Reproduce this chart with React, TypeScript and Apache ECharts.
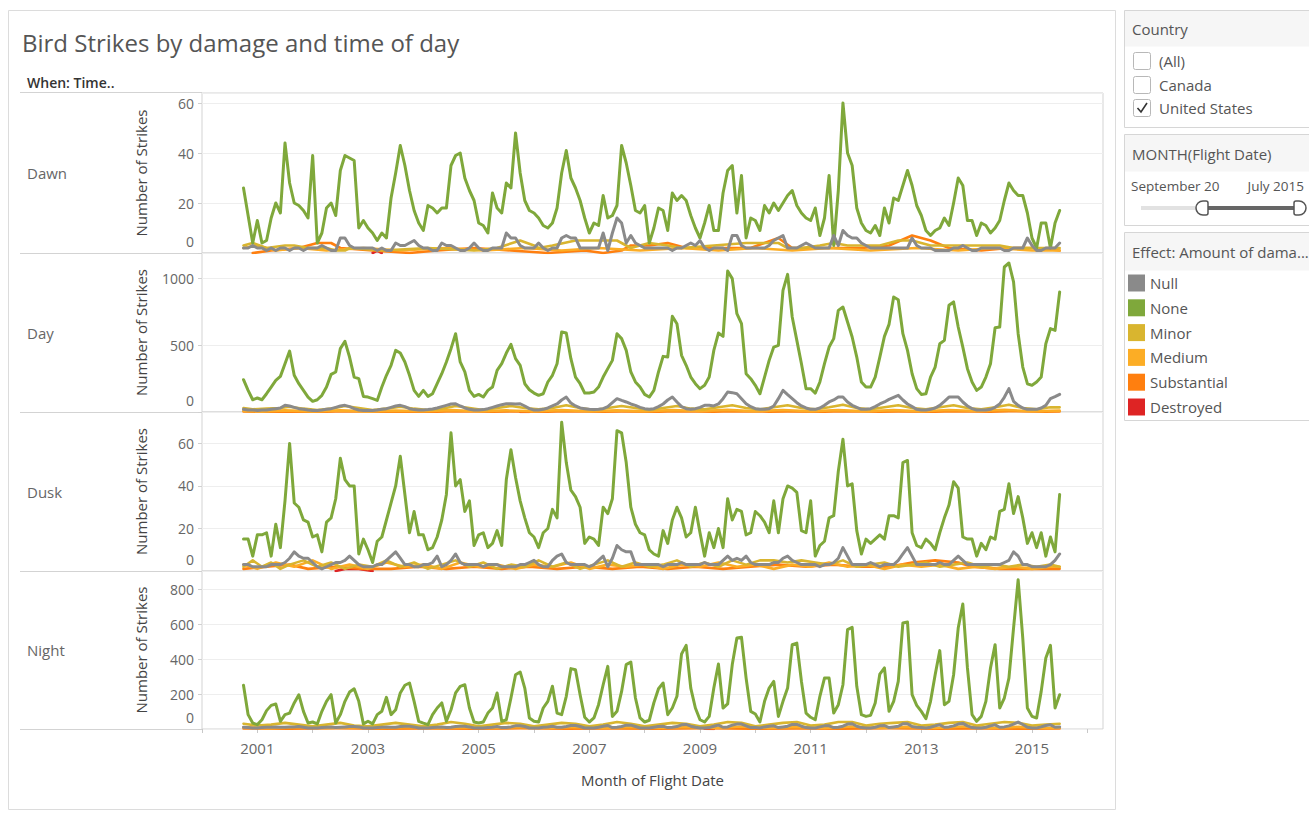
import React, { useEffect, useRef } from "react";
import * as echarts from "echarts";

// Months are counted from Oct 2000 (index 0) to Jul 2015 (index 177)
const FIRST_MONTH = 9; // Oct 2000 expressed as months since Jan 2000
const YEAR_LABELS = ["2001", "2003", "2005", "2007", "2009", "2011", "2013", "2015"];
const PANELS = ["Dawn", "Day", "Dusk", "Night"];
const LEGEND_ORDER = ["Null", "None", "Minor", "Medium", "Substantial", "Destroyed"];
const DRAW_ORDER = ["Destroyed", "Substantial", "Medium", "Minor", "None", "Null"];

// ---------- Dawn ----------
const dawnNone = [
  26, 15, 4, 13, 4, 5, 14, 20, 16, 44,
  28, 20, 19, 17, 14, 39, 4, 8, 18, 20,
  15, 33, 39, 38, 37, 10, 13, 10, 8, 5,
  8, 6, 22, 32, 43, 35, 25, 17, 12, 9,
  19, 18, 16, 18, 18, 35, 39, 40, 30, 25,
  21, 12, 11, 8, 24, 18, 16, 28, 26, 48,
  32, 21, 17, 16, 14, 11, 10, 12, 18, 32,
  41, 30, 26, 21, 14, 8, 12, 11, 23, 14,
  15, 19, 43, 36, 27, 17, 16, 19, 4, 10,
  18, 17, 9, 24, 21, 23, 21, 15, 10, 6,
  12, 19, 9, 9, 24, 33, 35, 16, 31, 6,
  14, 13, 9, 19, 16, 20, 17, 20, 23, 25,
  19, 16, 14, 13, 18, 7, 14, 31, 3, 25,
  60, 40, 35, 18, 12, 9, 8, 11, 7, 18,
  12, 22, 21, 27, 33, 27, 19, 15, 9, 7,
  9, 10, 14, 11, 20, 30, 27, 13, 13, 7,
  12, 11, 8, 10, 13, 21, 28, 25, 23, 23,
  16, 6, 2, 12, 12, 2, 12, 17,
];
const dawnNull = [
  2, 2, 3, 2, 2, 1, 2, 1, 2, 2,
  1, 2, 2, 1, 2, 2, 2, 3, 2, 1,
  1, 6, 6, 3, 2, 2, 2, 2, 2, 1,
  2, 1, 1, 4, 3, 3, 4, 5, 3, 2,
  2, 1, 1, 4, 3, 3, 2, 1, 1, 2,
  4, 2, 1, 1, 2, 2, 2, 8, 6, 6,
  3, 2, 2, 2, 4, 2, 1, 2, 2, 6,
  7, 6, 6, 2, 2, 2, 2, 2, 8, 1,
  8, 14, 12, 4, 7, 4, 3, 2, 2, 2,
  2, 2, 2, 1, 2, 2, 3, 4, 3, 5,
  2, 1, 2, 2, 2, 1, 7, 7, 3, 2,
  2, 2, 2, 2, 3, 5, 6, 7, 2, 2,
  2, 3, 4, 3, 2, 2, 2, 2, 7, 3,
  9, 7, 6, 6, 4, 3, 2, 2, 2, 2,
  2, 2, 2, 2, 2, 6, 3, 2, 2, 2,
  1, 1, 1, 1, 2, 2, 3, 2, 1, 1,
  2, 2, 2, 2, 2, 1, 1, 2, 2, 2,
  6, 3, 1, 1, 2, 2, 2, 4,
];
const dawnMinor = [
  [0, 3], [2, 4], [5, 2], [9, 3], [11, 3], [14, 2], [18, 2], [20, 1], [22, 1], [23, 2],
  [30, 1], [40, 2], [50, 1], [55, 2], [60, 5], [63, 3], [64, 2], [67, 3], [72, 5], [81, 5],
  [82, 4], [84, 2], [88, 4], [92, 3], [95, 2], [109, 4], [116, 4], [118, 2], [121, 2], [125, 3],
  [128, 4], [131, 3], [138, 3], [142, 5], [145, 5], [149, 3], [152, 3], [164, 3], [167, 2], [177, 2],
];
const dawnMedium = [
  [0, 2], [3, 3], [7, 1], [12, 2], [18, 1], [26, 2], [34, 1], [44, 2], [52, 1], [61, 2],
  [69, 1], [77, 2], [86, 1], [95, 2], [103, 1], [111, 2], [119, 1], [127, 2], [136, 1], [146, 2],
  [155, 1], [163, 2], [171, 1], [177, 1],
];
const dawnSubstantial = [
  [2, 0], [6, 1], [12, 2], [16, 4], [19, 4], [21, 2], [28, 1], [36, 0], [42, 1], [50, 2],
  [58, 1], [66, 0], [74, 1], [78, 0], [82, 1], [84, 3], [88, 3], [92, 4], [96, 2], [104, 2],
  [110, 2], [116, 6], [119, 2], [126, 2], [134, 2], [140, 3], [145, 7], [149, 5], [153, 2], [160, 1],
  [166, 2], [172, 2], [177, 1],
];
const dawnDestroyed = [[28, 0], [29, 1], [30, 0]];

// ---------- Day ----------
const dayNone = [
  242, 162, 92, 105, 92, 137, 187, 237, 267, 362,
  457, 275, 212, 162, 112, 80, 92, 125, 187, 282,
  300, 475, 530, 412, 262, 250, 117, 112, 100, 87,
  187, 275, 350, 462, 442, 375, 275, 162, 117, 162,
  117, 137, 212, 287, 375, 475, 587, 375, 300, 162,
  117, 132, 112, 162, 187, 312, 362, 442, 507, 400,
  350, 212, 167, 142, 125, 137, 225, 275, 362, 600,
  592, 400, 262, 212, 142, 142, 150, 187, 262, 325,
  387, 587, 550, 462, 300, 225, 187, 132, 112, 162,
  300, 417, 412, 717, 662, 425, 350, 262, 212, 175,
  200, 262, 462, 592, 567, 1057, 1000, 737, 662, 287,
  250, 200, 137, 262, 387, 487, 500, 912, 1032, 712,
  537, 362, 175, 175, 142, 225, 362, 487, 550, 762,
  787, 675, 562, 412, 225, 187, 187, 262, 412, 567,
  657, 862, 842, 587, 462, 287, 175, 132, 137, 262,
  337, 512, 537, 800, 825, 637, 487, 325, 225, 162,
  187, 262, 362, 632, 637, 1087, 1117, 975, 587, 337,
  212, 200, 225, 262, 512, 625, 612, 900,
];
const dayNull = [
  20, 15, 15, 12, 15, 15, 20, 25, 30, 50,
  45, 35, 25, 20, 15, 12, 12, 15, 20, 25,
  35, 45, 50, 40, 25, 15, 12, 12, 12, 15,
  20, 25, 35, 45, 50, 40, 25, 18, 15, 15,
  18, 22, 30, 40, 50, 60, 62, 45, 30, 20,
  15, 15, 18, 25, 35, 45, 55, 62, 62, 60,
  62, 45, 25, 15, 15, 20, 30, 45, 60, 90,
  112, 67, 45, 30, 25, 20, 18, 20, 25, 40,
  70, 100, 87, 75, 60, 50, 35, 25, 20, 25,
  40, 60, 90, 112, 75, 40, 25, 20, 25, 35,
  50, 50, 45, 60, 100, 150, 145, 137, 100, 62,
  40, 25, 20, 20, 25, 45, 100, 162, 130, 100,
  70, 45, 30, 20, 20, 30, 50, 75, 90, 112,
  112, 75, 50, 35, 20, 20, 25, 40, 60, 75,
  95, 110, 125, 90, 60, 40, 20, 15, 15, 20,
  30, 50, 80, 112, 112, 112, 75, 45, 25, 15,
  15, 15, 20, 35, 60, 110, 175, 80, 50, 30,
  20, 20, 20, 30, 50, 100, 115, 132,
];
const dayMinor = [
  [0, 30], [2, 20], [5, 25], [8, 30], [10, 40], [13, 25], [16, 15], [19, 25], [22, 45], [25, 30],
  [28, 15], [31, 25], [34, 40], [37, 25], [40, 15], [43, 25], [46, 45], [49, 30], [52, 15], [55, 30],
  [58, 45], [61, 30], [64, 20], [67, 30], [70, 50], [73, 30], [76, 15], [79, 30], [82, 45], [85, 30],
  [88, 15], [91, 30], [94, 45], [97, 25], [100, 20], [103, 35], [106, 50], [109, 30], [112, 20], [115, 35],
  [118, 50], [121, 30], [124, 20], [127, 35], [130, 55], [133, 30], [136, 20], [139, 35], [142, 50], [145, 30],
  [148, 20], [151, 35], [154, 50], [157, 30], [160, 20], [163, 35], [166, 55], [169, 30], [172, 20], [175, 35],
  [177, 35],
];
const dayMedium = [
  [0, 8], [4, 5], [9, 12], [15, 5], [21, 12], [27, 5], [33, 10], [39, 6], [45, 14], [51, 6],
  [57, 12], [63, 6], [69, 14], [75, 6], [81, 12], [87, 6], [93, 14], [99, 7], [105, 16], [111, 6],
  [117, 15], [123, 6], [129, 14], [135, 6], [141, 14], [147, 6], [153, 15], [159, 7], [165, 16], [171, 6],
  [177, 10],
];
const daySubstantial = [
  [0, 4], [6, 2], [10, 5], [18, 3], [22, 6], [30, 2], [34, 5], [42, 3], [46, 6], [54, 3],
  [58, 5], [66, 3], [70, 6], [78, 3], [82, 5], [90, 3], [94, 6], [102, 3], [106, 6], [114, 3],
  [118, 5], [126, 3], [130, 6], [138, 3], [142, 5], [150, 3], [154, 6], [162, 3], [166, 6], [174, 3],
  [177, 4],
];
const dayDestroyed = [[60, 1], [62, 1]];

// ---------- Dusk ----------
const duskNone = [
  15, 15, 7, 17, 17, 18, 7, 22, 11, 33,
  60, 32, 30, 24, 23, 16, 17, 9, 23, 25,
  34, 53, 43, 40, 40, 8, 15, 10, 4, 14,
  16, 24, 32, 40, 54, 36, 18, 28, 17, 17,
  10, 11, 16, 24, 36, 65, 40, 43, 28, 33,
  12, 17, 18, 11, 13, 19, 12, 43, 57, 44,
  33, 25, 18, 16, 11, 18, 20, 29, 25, 70,
  51, 38, 35, 30, 13, 16, 15, 12, 30, 27,
  34, 66, 65, 51, 30, 22, 18, 17, 10, 8,
  7, 19, 13, 24, 30, 25, 16, 18, 30, 18,
  7, 18, 11, 20, 11, 34, 24, 29, 28, 17,
  18, 28, 26, 23, 18, 33, 18, 34, 40, 39,
  37, 19, 18, 33, 7, 12, 14, 25, 26, 47,
  62, 40, 41, 19, 8, 15, 13, 15, 17, 15,
  26, 26, 25, 51, 52, 18, 12, 11, 15, 13,
  10, 18, 25, 31, 42, 39, 16, 15, 15, 7,
  13, 10, 16, 15, 28, 29, 41, 27, 35, 25,
  13, 18, 11, 18, 7, 16, 9, 36,
];
const duskNull = [
  3, 3, 2, 2, 2, 2, 3, 3, 3, 4,
  6, 9, 7, 6, 6, 4, 2, 1, 2, 3,
  4, 4, 5, 7, 5, 3, 2, 2, 2, 3,
  3, 5, 7, 9, 6, 3, 3, 2, 2, 3,
  3, 4, 7, 2, 3, 5, 8, 4, 3, 3,
  3, 3, 2, 3, 3, 3, 2, 2, 2, 2,
  3, 3, 4, 5, 3, 2, 2, 5, 7, 8,
  4, 3, 3, 3, 3, 2, 3, 5, 7, 2,
  6, 12, 10, 9, 9, 3, 3, 3, 3, 3,
  3, 2, 3, 3, 3, 4, 3, 3, 3, 3,
  4, 3, 3, 3, 5, 7, 5, 6, 5, 7,
  4, 3, 3, 3, 3, 4, 4, 6, 7, 5,
  4, 3, 3, 3, 3, 2, 3, 3, 4, 6,
  11, 7, 3, 3, 3, 3, 4, 3, 2, 3,
  3, 3, 5, 8, 11, 7, 3, 3, 3, 3,
  3, 4, 3, 3, 5, 7, 5, 3, 3, 3,
  3, 3, 3, 3, 3, 4, 5, 9, 7, 3,
  3, 2, 2, 2, 2, 3, 5, 8,
];
const duskMinor = [
  [0, 2], [2, 5], [4, 2], [6, 4], [8, 1], [10, 3], [13, 5], [16, 2], [19, 4], [22, 1],
  [25, 3], [28, 2], [31, 5], [34, 2], [37, 4], [40, 1], [43, 3], [46, 5], [49, 2], [52, 4],
  [55, 1], [58, 3], [61, 2], [64, 5], [67, 2], [70, 4], [73, 1], [76, 3], [79, 5], [82, 2],
  [85, 4], [88, 2], [91, 3], [94, 5], [97, 2], [100, 4], [103, 2], [106, 5], [109, 3], [112, 5],
  [115, 5], [118, 4], [121, 5], [124, 4], [127, 3], [130, 5], [133, 2], [136, 3], [139, 4], [142, 2],
  [145, 3], [148, 4], [151, 2], [154, 3], [157, 4], [160, 2], [163, 3], [166, 2], [169, 3], [172, 2],
  [175, 3], [177, 2],
];
const duskMedium = [
  [0, 3], [3, 1], [7, 4], [11, 2], [15, 5], [19, 1], [23, 3], [27, 1], [31, 4], [35, 2],
  [39, 3], [43, 1], [47, 4], [51, 2], [55, 3], [59, 1], [63, 3], [67, 2], [71, 4], [75, 1],
  [79, 3], [83, 2], [87, 3], [91, 1], [95, 3], [99, 2], [103, 4], [107, 2], [111, 3], [115, 1],
  [119, 3], [123, 2], [127, 4], [131, 2], [135, 3], [139, 1], [143, 3], [147, 2], [151, 3], [155, 1],
  [159, 2], [163, 1], [167, 2], [171, 1], [175, 2], [177, 2],
];
const duskSubstantial = [
  [0, 1], [5, 2], [10, 3], [14, 1], [20, 2], [26, 1], [32, 1], [38, 2], [44, 1], [50, 2],
  [56, 1], [62, 2], [68, 1], [74, 2], [80, 1], [86, 2], [92, 1], [98, 2], [104, 1], [110, 2],
  [116, 3], [122, 2], [128, 3], [134, 2], [140, 2], [145, 4], [150, 5], [155, 4], [158, 2], [164, 1],
  [170, 1], [177, 1],
];
const duskDestroyed = [[20, 0], [22, 1], [25, 1], [28, 0]];

// ---------- Night ----------
const nightNone = [
  250, 82, 34, 25, 53, 105, 135, 143, 44, 82,
  91, 149, 196, 101, 34, 40, 29, 101, 158, 196,
  34, 82, 158, 211, 230, 158, 29, 44, 29, 82,
  101, 181, 82, 110, 206, 250, 263, 158, 44, 34,
  25, 82, 120, 149, 44, 110, 206, 244, 253, 120,
  40, 34, 40, 91, 120, 206, 44, 53, 177, 310,
  326, 234, 63, 44, 40, 120, 158, 244, 91, 82,
  187, 345, 339, 196, 67, 40, 63, 139, 253, 358,
  72, 101, 215, 368, 383, 177, 63, 40, 50, 150,
  230, 263, 82, 120, 187, 429, 478, 234, 120, 53,
  40, 72, 234, 371, 120, 143, 368, 520, 524, 291,
  101, 86, 40, 158, 234, 272, 72, 158, 234, 482,
  491, 272, 91, 67, 53, 187, 291, 291, 91, 139,
  253, 568, 581, 244, 82, 72, 78, 149, 314, 349,
  101, 158, 272, 606, 611, 196, 135, 101, 59, 158,
  310, 448, 139, 158, 310, 577, 714, 349, 82, 44,
  72, 158, 349, 482, 120, 177, 291, 577, 853, 520,
  120, 72, 63, 215, 406, 478, 120, 196,
];
const nightNull = [
  10, 8, 6, 6, 8, 10, 10, 12, 10, 10,
  12, 12, 14, 10, 6, 6, 6, 8, 10, 12,
  8, 10, 12, 14, 14, 12, 6, 6, 6, 8,
  10, 12, 10, 10, 14, 16, 16, 12, 6, 6,
  6, 8, 10, 12, 8, 10, 14, 16, 16, 12,
  6, 6, 6, 8, 10, 14, 8, 8, 12, 18,
  18, 14, 6, 6, 6, 10, 12, 16, 10, 10,
  14, 20, 20, 14, 6, 6, 6, 10, 16, 20,
  8, 10, 14, 22, 22, 14, 6, 6, 6, 10,
  14, 16, 8, 10, 14, 24, 26, 16, 10, 6,
  6, 8, 16, 22, 10, 12, 22, 28, 28, 18,
  8, 8, 6, 12, 16, 18, 8, 12, 16, 26,
  26, 16, 8, 6, 6, 12, 18, 18, 8, 10,
  16, 28, 30, 16, 8, 6, 6, 10, 18, 20,
  8, 12, 16, 30, 30, 14, 10, 8, 6, 10,
  18, 24, 10, 12, 18, 28, 32, 18, 8, 6,
  6, 10, 18, 24, 10, 12, 18, 28, 40, 26,
  10, 6, 6, 12, 20, 24, 10, 12,
];
const nightMinor = [
  [0, 30], [3, 20], [6, 25], [9, 35], [12, 25], [15, 15], [18, 25], [21, 35], [24, 20], [27, 15],
  [30, 25], [33, 35], [36, 25], [39, 15], [42, 25], [45, 40], [48, 30], [51, 15], [54, 25], [57, 35],
  [60, 30], [63, 15], [66, 25], [69, 35], [72, 30], [75, 15], [78, 25], [81, 40], [84, 30], [87, 15],
  [90, 25], [93, 35], [96, 30], [99, 15], [102, 25], [105, 40], [108, 35], [111, 15], [114, 25], [117, 35],
  [120, 40], [123, 20], [126, 25], [129, 40], [132, 40], [135, 20], [138, 30], [141, 35], [144, 40], [147, 20],
  [150, 25], [153, 35], [156, 40], [159, 20], [162, 30], [165, 40], [168, 35], [171, 20], [174, 25], [177, 30],
];
const nightMedium = [
  [0, 10], [6, 5], [12, 12], [18, 6], [24, 10], [30, 6], [36, 12], [42, 6], [48, 10], [54, 6],
  [60, 12], [66, 6], [72, 12], [78, 6], [84, 12], [90, 6], [96, 12], [102, 6], [108, 14], [114, 6],
  [120, 12], [126, 6], [132, 14], [138, 6], [144, 12], [150, 6], [156, 14], [162, 6], [168, 12], [174, 6],
  [177, 8],
];
const nightSubstantial = [
  [0, 3], [10, 2], [20, 4], [30, 2], [40, 3], [50, 2], [60, 4], [70, 2], [80, 3], [90, 2],
  [100, 4], [110, 2], [120, 3], [130, 2], [140, 4], [150, 2], [160, 3], [170, 2], [177, 3],
];
const nightDestroyed = [[100, 1], [102, 0]];

const PANEL_DATA: any[] = [
  { None: dawnNone, Null: dawnNull, Minor: dawnMinor, Medium: dawnMedium, Substantial: dawnSubstantial, Destroyed: dawnDestroyed },
  { None: dayNone, Null: dayNull, Minor: dayMinor, Medium: dayMedium, Substantial: daySubstantial, Destroyed: dayDestroyed },
  { None: duskNone, Null: duskNull, Minor: duskMinor, Medium: duskMedium, Substantial: duskSubstantial, Destroyed: duskDestroyed },
  { None: nightNone, Null: nightNull, Minor: nightMinor, Medium: nightMedium, Substantial: nightSubstantial, Destroyed: nightDestroyed },
];
const Y_MAX = [64, 1192, 74.8, 903];
const Y_INTERVAL = [20, 500, 20, 200];

const COLORS: Record<string, string> = {
  Null: "#8a8a8a",
  None: "#7fa83b",
  Minor: "#d9b52f",
  Medium: "#fcad25",
  Substantial: "#ff7f0f",
  Destroyed: "#de2424",
};

const FONT = '"Open Sans", "Noto Sans", sans-serif';
const GRID_TOP = [93, 253, 412, 571];
const GRID_H = [160, 159, 159, 158];
const GRID_LEFT = 202;
const GRID_W = 901;
const X_MAX = 195.4;

function toPoints(arr: any[]) {
  if (arr.length && Array.isArray(arr[0])) return arr.map((p: number[]) => [p[0] + FIRST_MONTH, p[1]]);
  return arr.map((v: number, i: number) => [i + FIRST_MONTH, v]);
}

export default function App() {
  const ref = useRef<HTMLDivElement>(null);
  useEffect(() => {
    if (!ref.current) return;
    const chart = echarts.init(ref.current, undefined, { renderer: "svg" });

    const grids = PANELS.map((_, i) => ({
      left: GRID_LEFT,
      top: GRID_TOP[i],
      width: GRID_W,
      height: GRID_H[i],
      show: true,
      borderColor: "#d3d3d3",
      borderWidth: 1,
      backgroundColor: "transparent",
    }));

    const xAxes = PANELS.map((_, i) => {
      const last = i === PANELS.length - 1;
      return {
        type: "value",
        gridIndex: i,
        min: 0,
        max: X_MAX,
        interval: 12,
        show: last,
        axisLine: { show: false },
        splitLine: { show: false },
        axisTick: { show: last, length: 4, lineStyle: { color: "#c8c8c8" } },
        axisLabel: {
          show: last,
          showMaxLabel: false,
          margin: 11,
          fontSize: 15,
          color: "#666",
          fontFamily: FONT,
          formatter: (v: number) => {
            const y = String(2000 + v / 12);
            return YEAR_LABELS.includes(y) ? y : "";
          },
        },
        name: last ? "Month of Flight Date" : "",
        nameLocation: "middle",
        nameGap: 43,
        nameTextStyle: { fontSize: 15, color: "#444", fontFamily: FONT, fontWeight: 500 },
      };
    });

    const yAxes = PANELS.map((_, i) => ({
      type: "value",
      gridIndex: i,
      min: 0,
      max: Y_MAX[i],
      interval: Y_INTERVAL[i],
      axisLine: { show: false },
      axisTick: { show: true, length: 4, lineStyle: { color: "#d0d0d0" } },
      splitLine: { show: true, lineStyle: { color: "#eeeeee", width: 1 } },
      axisLabel: {
        showMaxLabel: false,
        margin: 8,
        fontSize: 14,
        color: "#666",
        fontFamily: FONT,
        formatter: (v: number) => (v === 0 ? "{z|0}" : String(v)),
        rich: { z: { fontSize: 14, color: "#666", fontFamily: FONT, padding: [0, 0, 24, 0] } },
      },
      name: "Number of Strikes",
      nameLocation: "middle",
      nameGap: 54,
      nameTextStyle: { fontSize: 15, color: "#444", fontFamily: FONT, fontWeight: 500 },
    }));

    const series: any[] = [];
    PANELS.forEach((_, i) => {
      DRAW_ORDER.forEach((name) => {
        series.push({
          type: "line",
          name,
          xAxisIndex: i,
          yAxisIndex: i,
          data: toPoints(PANEL_DATA[i][name]),
          showSymbol: false,
          symbol: "none",
          color: COLORS[name],
          itemStyle: { color: COLORS[name] },
          lineStyle: { color: COLORS[name], width: name === "None" || name === "Null" ? 3 : 2.6, join: "round", cap: "round" },
          emphasis: { disabled: true },
          z: name === "Null" ? 4 : name === "None" ? 3 : 2,
        });
      });
    });

    const lineAt = (y: number, x1: number, x2: number) => ({
      type: "line",
      silent: true,
      shape: { x1, y1: y, x2, y2: y },
      style: { stroke: "#d3d3d3", lineWidth: 1 },
    });

    const card = (y: number, h: number, headerH: number, title: string) => [
      {
        type: "rect",
        silent: true,
        shape: { x: 1124.5, y: y + 0.5, width: 200, height: headerH },
        style: { fill: "#f6f6f6" },
      },
      {
        type: "rect",
        silent: true,
        shape: { x: 1124.5, y: y + 0.5, width: 200, height: h },
        style: { fill: "none", stroke: "#d6d6d6", lineWidth: 1 },
      },
      {
        type: "text",
        silent: true,
        style: { text: title, x: 1132, y: y + headerH / 2 + 1, fill: "#555", fontSize: 15, fontFamily: FONT, verticalAlign: "middle" },
      },
    ];

    const checkbox = (cy: number, label: string, checked: boolean) => {
      const els: any[] = [
        {
          type: "rect",
          silent: true,
          shape: { x: 1133.5, y: cy - 8.5, width: 17, height: 17, r: 2 },
          style: { fill: "#fff", stroke: "#b8b8b8", lineWidth: 1 },
        },
        {
          type: "text",
          silent: true,
          style: { text: label, x: 1159, y: cy, fill: "#555", fontSize: 15, fontFamily: FONT, verticalAlign: "middle" },
        },
      ];
      if (checked)
        els.push({
          type: "polyline",
          silent: true,
          shape: { points: [[1137.5, cy], [1141, cy + 4], [1147, cy - 5]] },
          style: { stroke: "#333", lineWidth: 1.6, fill: "none" },
        });
      return els;
    };

    const graphic: any[] = [
      {
        type: "rect",
        silent: true,
        shape: { x: 8.5, y: 10.5, width: 1107, height: 799 },
        style: { fill: "none", stroke: "#dcdcdc", lineWidth: 1 },
      },
      {
        type: "text",
        silent: true,
        style: { text: "Bird Strikes by damage and time of day", x: 22, y: 42, fill: "#555", fontSize: 24, fontFamily: FONT, verticalAlign: "middle" },
      },
      {
        type: "text",
        silent: true,
        style: { text: "When: Time..", x: 27, y: 82, fill: "#333", fontSize: 14, fontWeight: 600, fontFamily: FONT, verticalAlign: "middle" },
      },
      lineAt(92.5, 20, GRID_LEFT),
      lineAt(253.5, 20, GRID_LEFT),
      lineAt(412.5, 20, GRID_LEFT),
      lineAt(571.5, 20, GRID_LEFT),
      lineAt(729.5, 20, GRID_LEFT),
      ...PANELS.map((p, i) => ({
        type: "text",
        silent: true,
        style: { text: p, x: 27, y: GRID_TOP[i] + GRID_H[i] / 2, fill: "#666", fontSize: 15, fontFamily: FONT, verticalAlign: "middle" },
      })),
      ...card(10, 117, 36, "Country"),
      ...checkbox(61, "(All)", false),
      ...checkbox(85, "Canada", false),
      ...checkbox(108, "United States", true),
      ...card(134, 91, 37, "MONTH(Flight Date)"),
      {
        type: "text",
        silent: true,
        style: { text: "September 20", x: 1131, y: 186, fill: "#555", fontSize: 13.5, fontFamily: FONT, verticalAlign: "middle" },
      },
      {
        type: "text",
        silent: true,
        style: { text: "July 2015", x: 1304, y: 186, fill: "#555", fontSize: 13.5, fontFamily: FONT, verticalAlign: "middle", align: "right" },
      },
      {
        type: "line",
        silent: true,
        shape: { x1: 1141, y1: 208, x2: 1300, y2: 208 },
        style: { stroke: "#e2e2e2", lineWidth: 4 },
      },
      {
        type: "line",
        silent: true,
        shape: { x1: 1202, y1: 208, x2: 1300, y2: 208 },
        style: { stroke: "#666", lineWidth: 4 },
      },
      {
        type: "rect",
        silent: true,
        shape: { x: 1196, y: 201, width: 12, height: 14, r: [7, 2, 2, 7] },
        style: { fill: "#fff", stroke: "#555", lineWidth: 1.5 },
      },
      {
        type: "rect",
        silent: true,
        shape: { x: 1294, y: 201, width: 12, height: 14, r: [2, 7, 7, 2] },
        style: { fill: "#fff", stroke: "#555", lineWidth: 1.5 },
      },
      ...card(232, 188, 38, "Effect: Amount of dama..."),
    ];

    chart.setOption({
      animation: false,
      textStyle: { fontFamily: FONT },
      grid: grids,
      xAxis: xAxes,
      yAxis: yAxes,
      series,
      legend: {
        data: LEGEND_ORDER,
        orient: "vertical",
        left: 1128,
        top: 274.5,
        icon: "rect",
        itemWidth: 17,
        itemHeight: 17,
        itemGap: 7.8,
        padding: 0,
        selectedMode: false,
        textStyle: { fontSize: 15, color: "#555", fontFamily: FONT },
      },
      graphic,
    });

    return () => chart.dispose();
  }, []);

  return <div ref={ref} style={{ position: "absolute", left: 0, top: 0, width: 1309, height: 814 }} />;
}
